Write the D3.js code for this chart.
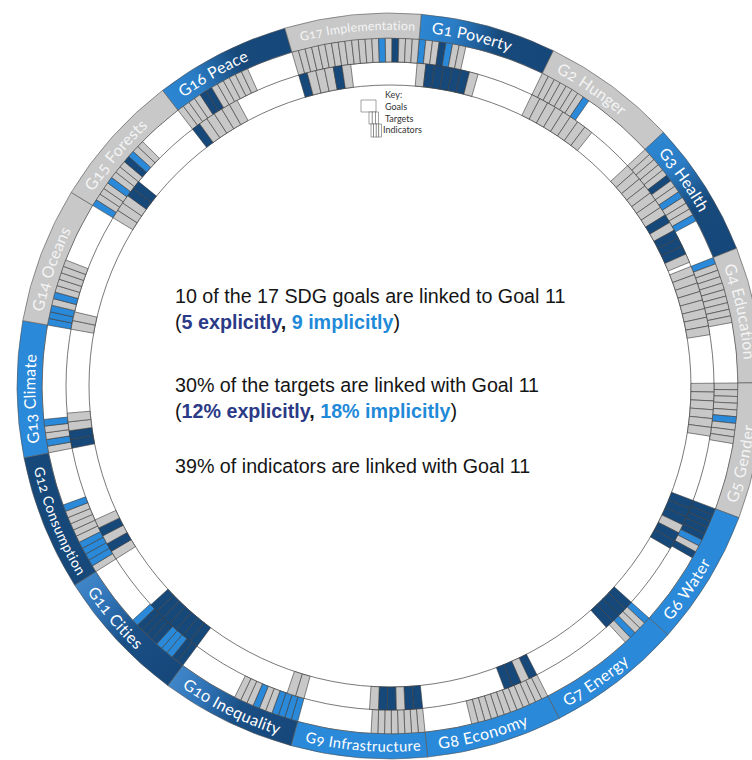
<!DOCTYPE html>
<html>
<head>
<meta charset="utf-8">
<script src="https://cdn.jsdelivr.net/npm/d3@7"></script>
<style>
  body { margin: 0; background: #fff; }
  svg { display: block; }
</style>
</head>
<body>
<svg id="chart" width="752" height="760"></svg>
<script>
// goals, clockwise from the top
const goals = [
  "G1 Poverty", "G2 Hunger", "G3 Health", "G4 Education", "G5 Gender",
  "G6 Water", "G7 Energy", "G8 Economy", "G9 Infrastructure", "G10 Inequality",
  "G11 Cities", "G12 Consumption", "G13 Climate", "G14 Oceans", "G15 Forests",
  "G16 Peace", "G17 Implementation"
]

// d = explicit link, b = implicit link, g = not linked
const goalLinks = ["d", "g", "d", "g", "g", "b", "b", "b", "b", "d", "d", "d", "b", "g", "g", "d", "g"]

const targetLinks = [
  "bggdbgg",
  "gggggggb",
  "gggggdggbgggb",
  "bggggggggg",
  "gggggbggg",
  "dddddbgd",
  "bggbg",
  "gggggggggggg",
  "gggggggg",
  "bbbbggbggg",
  "ddbbbddddb",
  "gbbbbgggggb",
  "gbggb",
  "bbbgbggggg",
  "bgggbgggdbgg",
  "ggggddgggggg",
  "gggggggggggggbgdggg"
]

const indicatorLinks = [
  "gdddddg",
  "gggggggg",
  "gggggggdgdddg",
  "gggggggg",
  "gggggg",
  "dddgdd",
  "dddd",
  "dgdd",
  "ddgddg",
  "gg",
  "ddddddd",
  "gdgdg",
  "ddgg",
  "gg",
  "gggdd",
  "dggggg",
  "dgggdg"
]

const keyLabels = ["Key:", "Goals", "Targets", "Indicators"]

const summary = [
  [["10 of the 17 SDG goals are linked to Goal 11", "n"]],
  [["(", "n"], ["5 explicitly", "d"], [", ", "k"], ["9 implicitly", "b"], [")", "n"]],
  [["30% of the targets are linked with Goal 11", "n"]],
  [["(", "n"], ["12% explicitly", "d"], [", ", "k"], ["18% implicitly", "b"], [")", "n"]],
  [["39% of indicators are linked with Goal 11", "n"]]
]

const svg = d3.select("#chart")
const cx = 390, cy = 386
const rBandOut = 373, rBandIn = 348, rMid = 324, rInner = 301

const offset = 4.8 * Math.PI / 180
const goalAngle = d3.scaleLinear().domain([0, goals.length]).range([offset, offset + 2 * Math.PI])
const sector = goalAngle(1) - goalAngle(0)
const targetStep = d3.scaleLinear().domain([0, 19]).range([0, sector])
const indicatorStep = d3.scaleLinear().domain([0, 13.5]).range([0, sector])

const color = d3.scaleOrdinal().domain(["d", "b", "g"]).range(["#16487a", "#2a89d8", "#c8c8c8"])

const g = svg.append("g").attr("transform", `translate(${cx},${cy})`)

// ring outlines
g.selectAll("circle.ring").data([rBandIn, rMid, rInner])
  .join("circle")
  .attr("class", "ring")
  .attr("r", d => d)
  .attr("fill", "none")
  .attr("stroke", "#555")
  .attr("stroke-width", 0.8)

const cellArc = d3.arc()

const flatten = (links, step, r0, r1) => links.flatMap((s, i) =>
  s.split("").map((c, j) => ({
    status: c,
    startAngle: goalAngle(i) + step(j),
    endAngle: goalAngle(i) + step(j + 1),
    innerRadius: r0,
    outerRadius: r1
  })))

const cells = flatten(targetLinks, targetStep, rMid, rBandIn)
  .concat(flatten(indicatorLinks, indicatorStep, rInner, rMid))

g.selectAll("path.cell").data(cells)
  .join("path")
  .attr("class", "cell")
  .attr("d", cellArc)
  .attr("fill", d => color(d.status))
  .attr("stroke", "#3a3a3a")
  .attr("stroke-width", 0.6)

// goal band, some goals shaded along their length
const fadeIn = new Set([0, 2, 15])
const fadeOut = new Set([9, 10])
const defs = svg.append("defs")
const rLab = (rBandIn + rBandOut) / 2
// relative to the centre, since the band sits in the translated group
const pt = (a, r) => [r * Math.sin(a), -r * Math.cos(a)]

goals.forEach((name, i) => {
  if (!fadeIn.has(i) && !fadeOut.has(i)) return
  const [x1, y1] = pt(goalAngle(i), rLab)
  const [x2, y2] = pt(goalAngle(i + 1), rLab)
  const stops = fadeIn.has(i)
    ? [[0, "#2c86d2"], [0.25, "#2a7cc4"], [0.6, "#17497b"], [1, "#16477a"]]
    : [[0, "#16477a"], [0.45, "#1a4f85"], [0.75, "#2f73b6"], [1, "#3f86c8"]]
  const lg = defs.append("linearGradient")
    .attr("id", "fade" + i)
    .attr("gradientUnits", "userSpaceOnUse")
    .attr("x1", x1).attr("y1", y1).attr("x2", x2).attr("y2", y2)
  stops.forEach(([o, c]) => lg.append("stop").attr("offset", o).attr("stop-color", c))
})

const bandFill = (d, i) => {
  if (fadeIn.has(i) || fadeOut.has(i)) return `url(#fade${i})`
  return d === "g" ? "#c8c8c8" : color(d)
}

g.selectAll("path.band").data(goalLinks)
  .join("path")
  .attr("class", "band")
  .attr("d", (d, i) => cellArc({
    innerRadius: rBandIn, outerRadius: rBandOut,
    startAngle: goalAngle(i), endAngle: goalAngle(i + 1)
  }))
  .attr("fill", bandFill)
  .attr("stroke", "#555")
  .attr("stroke-width", 0.6)

// label paths, flipped on the lower half so the text stays upright
const labelPath = i => {
  const a0 = goalAngle(i), a1 = goalAngle(i + 1)
  const mid = ((a0 + a1) / 2) * 180 / Math.PI
  const flip = mid > 90 && mid < 265
  const p = d3.path()
  if (flip) p.arc(cx, cy, rLab, a1 - Math.PI / 2, a0 - Math.PI / 2, true)
  else p.arc(cx, cy, rLab, a0 - Math.PI / 2, a1 - Math.PI / 2, false)
  return p.toString()
}

defs.selectAll("path.lab").data(goals)
  .join("path")
  .attr("class", "lab")
  .attr("id", (d, i) => "lab" + i)
  .attr("d", (d, i) => labelPath(i))

const labelSize = 16
const labelPad = 12
const arcLen = sector * rLab

const labels = svg.selectAll("text.goal").data(goals)
  .join("text")
  .attr("class", "goal")
  .attr("font-family", "Lato, 'Open Sans', sans-serif")
  .attr("font-size", labelSize)
  .attr("letter-spacing", 0.3)
  .style("font-variant-numeric", "oldstyle-nums")
  .attr("fill", (d, i) => goalLinks[i] === "g" ? "#f4f4f4" : "#fff")
  .attr("dy", "0.36em")

labels.append("textPath")
  .attr("href", (d, i) => "#lab" + i)
  .attr("startOffset", labelPad)
  .text(d => d)

// shrink the long names so they stay inside their band
labels.each(function () {
  const len = this.getComputedTextLength()
  const room = arcLen - labelPad - 6
  if (len > room) d3.select(this).attr("font-size", labelSize * room / len)
})

// key
const key = svg.append("g").attr("transform", "translate(361,90)")
key.append("path")
  .attr("d", "M0,10 H15 V22 H0 Z")
  .attr("fill", "#fff").attr("stroke", "#666").attr("stroke-width", 0.6)
key.selectAll("rect.kt").data([0, 1, 2]).join("rect")
  .attr("class", "kt")
  .attr("x", d => 8 + d * 3.2).attr("y", 22).attr("width", 3.2).attr("height", 12)
  .attr("fill", "#fff").attr("stroke", "#666").attr("stroke-width", 0.6)
key.selectAll("rect.ki").data([0, 1, 2, 3]).join("rect")
  .attr("class", "ki")
  .attr("x", d => 10 + d * 2.6).attr("y", 34).attr("width", 2.6).attr("height", 13)
  .attr("fill", "#fff").attr("stroke", "#666").attr("stroke-width", 0.6)
key.selectAll("text").data(keyLabels).join("text")
  .attr("x", (d, i) => i === 3 ? 22 : 24)
  .attr("y", (d, i) => 8 + i * 11.8)
  .attr("font-family", "Lato, 'Open Sans', sans-serif")
  .attr("font-size", 9)
  .attr("fill", "#333")
  .text(d => d)

// summary text
const textColor = { n: "#151515", k: "#151515", d: "#2b3a86", b: "#1f8ad8" }
const lineY = [303, 329, 392, 418, 473]
svg.selectAll("text.sum").data(summary)
  .join("text")
  .attr("class", "sum")
  .attr("x", 175)
  .attr("y", (d, i) => lineY[i])
  .attr("font-family", "'Liberation Sans', Arial, sans-serif")
  .attr("font-size", 19.7)
  .selectAll("tspan").data(d => d)
  .join("tspan")
  .attr("fill", d => textColor[d[1]])
  .attr("font-weight", d => d[1] === "n" ? "normal" : "bold")
  .text(d => d[0])
</script>
</body>
</html>
